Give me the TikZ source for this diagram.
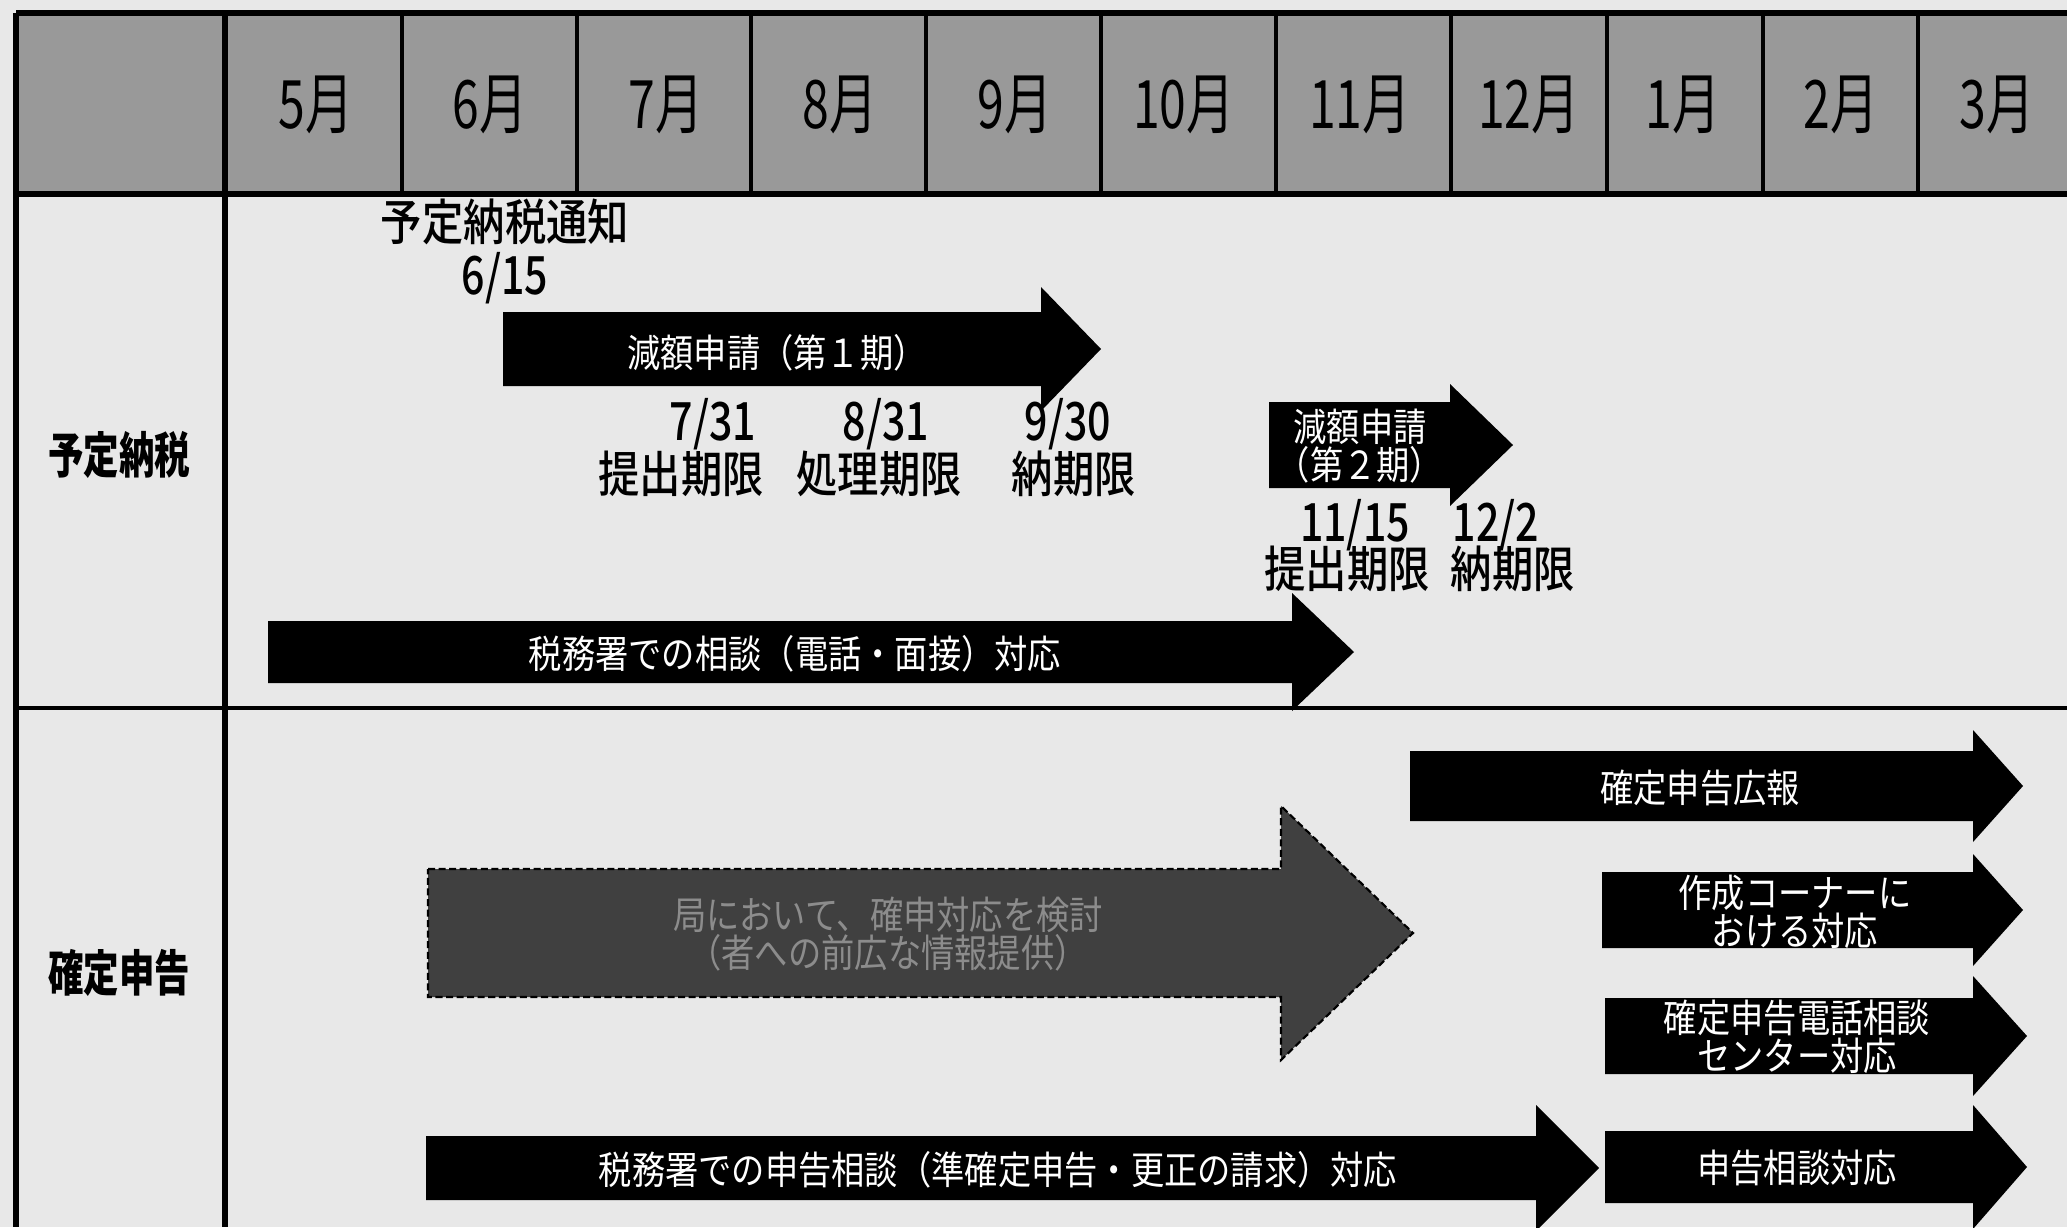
\documentclass[tikz,border=0pt]{standalone}
\usepackage{fontspec}
\usepackage{tikz}

\newfontfamily\jpfont[FakeStretch=0.86]{Noto Sans CJK JP}
\newfontfamily\jpmed[FakeStretch=0.84]{Noto Sans CJK JP Medium}
\newfontfamily\jpdate[FakeStretch=0.78]{Noto Sans CJK JP Medium}
\newfontfamily\jpnarrow[FakeStretch=0.72]{Noto Sans CJK JP}

\definecolor{hdrgray}{gray}{0.6}
\definecolor{bggray}{gray}{0.91}
\definecolor{darkfill}{gray}{0.25}
\definecolor{dimtext}{gray}{0.55}

% block arrow: [style] x-start, x-head, x-tip, y-centre, half body, half head
\newcommand{\blockarrow}[7][]{%
  \fill[#1] (#2,{#5-#6}) -- (#3,{#5-#6}) -- (#3,{#5-#7}) -- (#4,#5)
    -- (#3,{#5+#7}) -- (#3,{#5+#6}) -- (#2,{#5+#6}) -- cycle;}

\tikzset{
  month/.style={font=\jpnarrow\fontsize{19}{19}\selectfont, inner sep=0pt},
  rowlabel/.style={font=\jpnarrow\bfseries\fontsize{14}{14}\selectfont, inner sep=0pt},
  note/.style={font=\jpmed\fontsize{14}{16}\selectfont, inner sep=0pt},
  datenote/.style={font=\jpdate\fontsize{15}{17}\selectfont, inner sep=0pt},
  arrowtext/.style={text=white, align=center, inner sep=0pt,
    font=\jpfont\fontsize{11}{10.8}\selectfont},
}

\begin{document}
\begin{tikzpicture}[x=0.01cm, y=-0.01cm]
    \useasboundingbox (0,0) rectangle (2067,1227);
    \fill[bggray] (0,0) rectangle (2067,1227);

    % header row with the months
    \fill[hdrgray] (16,13) rectangle (2067,194);
    \foreach \x in {402,577,751,926,1101,1276,1451,1607,1763,1918}
        \draw[line width=1pt] (\x,13) -- (\x,194);
    \foreach \m/\x in {5/316,6/490,7/666,8/840,9/1015,10/1184,11/1360,12/1529,1/1683,2/1841,3/1997}
        \node[month] (mon-\m) at (\x,105) {\m 月};

    % grid lines
    \draw[line width=1.8pt] (16,13) -- (2067,13);
    \draw[line width=1.8pt] (16,194) -- (2067,194);
    \draw[line width=1.5pt] (16,13) -- (16,1227);
    \draw[line width=1.5pt] (225,13) -- (225,1227);
    \draw[line width=1.3pt] (16,708) -- (2067,708);

    % row labels
    \node[rowlabel] (yotei) at (119,455) {予定納税};
    \node[rowlabel] (kakutei) at (119,973) {確定申告};

    % --- 予定納税 ---
    \node[note] (tsuchi) at (505,222) {予定納税通知};
    \node[datenote] (d615) at (505,278) {6/15};

    \blockarrow{503}{1041}{1101}{349}{37}{62}
    \node[arrowtext] (gen1) at (777,353) {減額申請（第１期）};
    \node[datenote] (d731) at (713,424) {7/31};
    \node[note] (teishutsu1) at (681,474) {提出期限};
    \node[datenote] (d831) at (886,424) {8/31};
    \node[note] (shori) at (879,474) {処理期限};
    \node[datenote] (d930) at (1068,424) {9/30};
    \node[note] (nouki1) at (1074,474) {納期限};

    \blockarrow{1269}{1450}{1513}{445}{43}{61}
    \node[arrowtext] (gen2) at (1360,446) {減額申請\\（第２期）};
    \node[datenote] (d1115) at (1355,525) {11/15};
    \node[note] (teishutsu2) at (1347,569) {提出期限};
    \node[datenote] (d122) at (1496,525) {12/2};
    \node[note] (nouki2) at (1513,569) {納期限};

    \blockarrow{268}{1292}{1354}{652}{31}{59}
    \node[arrowtext] (soudan) at (795,654) {税務署での相談（電話・面接）対応};

    % --- 確定申告 ---
    \blockarrow{1410}{1973}{2023}{786}{35}{56}
    \node[arrowtext] (kouhou) at (1700,788) {確定申告広報};

    \blockarrow[fill=darkfill, draw=black, line width=0.6pt, dash pattern=on 2pt off 1pt]{428}{1281}{1413}{933}{64}{127}
    \node[arrowtext, text=dimtext] (toukyoku) at (888,934) {局において、確申対応を検討\\（者への前広な情報提供）};

    \blockarrow{1602}{1973}{2023}{910}{38}{56}
    \node[arrowtext] (corner) at (1795,912) {作成コーナーに\\おける対応};

    \blockarrow{1605}{1973}{2027}{1036}{38}{60}
    \node[arrowtext] (denwa) at (1797,1037) {確定申告電話相談\\センター対応};

    \blockarrow{1605}{1973}{2027}{1167}{36}{62}
    \node[arrowtext] (shinkoku) at (1797,1168) {申告相談対応};

    \blockarrow{426}{1536}{1599}{1168}{32}{63}
    \node[arrowtext] (juntei) at (998,1170) {税務署での申告相談（準確定申告・更正の請求）対応};

\end{tikzpicture}
\end{document}
